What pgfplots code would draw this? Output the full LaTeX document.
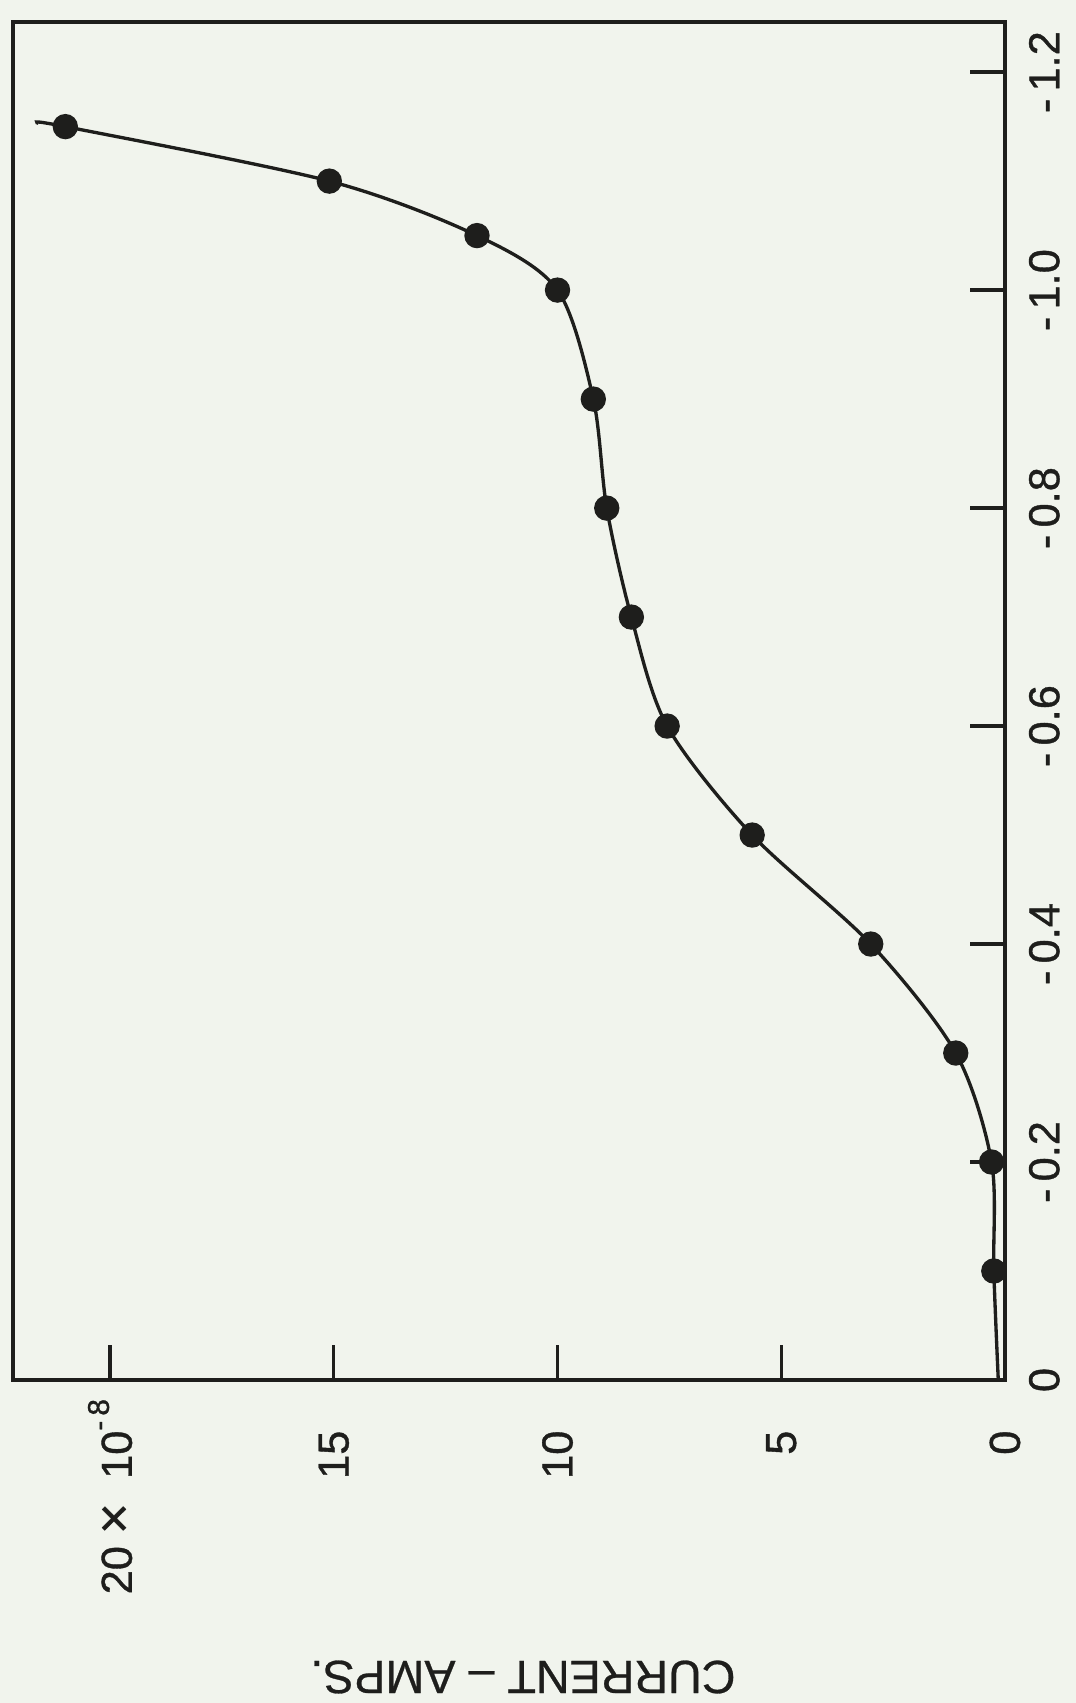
\documentclass[border=0pt]{standalone}
\usepackage{pgfplots}
\pgfplotsset{compat=1.18}
\usepackage{fontspec}
\setmainfont{Liberation Sans}[FakeBold=0.6]
\newfontfamily\tickfont{Liberation Sans}[FakeBold=0.9]
\definecolor{paper}{RGB}{241,244,237}
\definecolor{ink}{RGB}{30,30,28}
\begin{document}
\begin{tikzpicture}
\path[fill=paper, use as bounding box] (-3.9pt,-96.9pt) rectangle (318.9pt,414pt);
\begin{axis}[
  at={(0,0)}, anchor=south west, scale only axis,
  width=297.6pt, height=407.4pt,
  x dir=reverse,
  xmin=0, xmax=22.17, ymin=0, ymax=1.246,
  axis line style={ink, line width=1.3pt},
  tick style={ink, line width=1pt},
  tick align=inside,
  major tick length=10.5pt,
  xtick={0,5,10,15,20},
  xticklabels={0,5,10,15,{20\ {\fontsize{16}{16}\selectfont ×}\ \ 10\rlap{\raisebox{1.0ex}{\fontsize{9}{9}\selectfont -\,8}}}},
  ytick={0,0.2,0.4,0.6,0.8,1.0,1.2},
  yticklabels={0,-\,0.2,-\,0.4,-\,0.6,-\,0.8,-\,1.0,-\,1.2},
  xtick pos=left, ytick pos=right,
  xticklabel pos=left, yticklabel pos=right,
  ticklabel style={font=\tickfont\fontsize{13}{13}\selectfont, text=ink},
  xticklabel style={rotate=90, anchor=east, inner sep=0pt},
  xticklabel shift=15pt,
  yticklabel style={rotate=90, anchor=north, inner sep=0pt},
  yticklabel shift=7pt,
  xlabel={CURRENT -- AMPS.},
  xlabel style={at={(axis description cs:0.514,0)}, yshift=-89.1pt, anchor=center, rotate=180, font=\fontsize{14}{14}\selectfont, text=ink},
]
\addplot[ink, line width=1pt, smooth, tension=0.5] coordinates {
  (0.15,0.0) (0.25,0.1) (0.3,0.2) (1.1,0.3) (3.0,0.4) (5.65,0.5) (7.55,0.6)
  (8.35,0.7) (8.9,0.8) (9.2,0.9) (10.0,1.0) (11.8,1.05) (15.1,1.10) (21.0,1.15) (21.6,1.153)
};
\addplot[only marks, mark=*, mark size=3.6pt, ink] coordinates {
  (0.25,0.1) (0.3,0.2) (1.1,0.3) (3.0,0.4) (5.65,0.5) (7.55,0.6)
  (8.35,0.7) (8.9,0.8) (9.2,0.9) (10.0,1.0) (11.8,1.05) (15.1,1.10) (21.0,1.15)
};
\end{axis}
\end{tikzpicture}
\end{document}
